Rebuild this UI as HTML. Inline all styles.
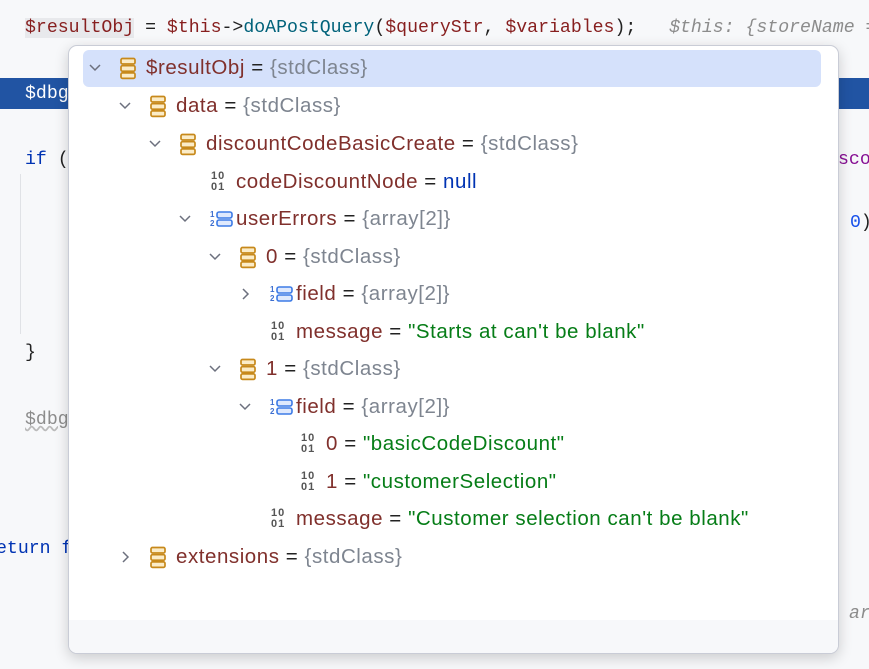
<!DOCTYPE html>
<html><head><meta charset="utf-8">
<style>
html,body{margin:0;padding:0}
body{width:869px;height:669px;position:relative;overflow:hidden;background:#f7f8fa;font-family:"Liberation Sans",sans-serif}
.code{position:absolute;font-family:"Liberation Mono",monospace;font-size:18.2px;white-space:pre;line-height:20px}
.pop{position:absolute;left:68px;top:45px;width:769px;height:607px;background:#fff;border:1px solid #c9ccd6;border-radius:9px;box-shadow:0 4px 14px rgba(0,0,0,0.18);overflow:hidden}
.foot{position:absolute;left:0;right:0;bottom:0;height:33px;background:#f7f8fa}
.sel{position:absolute;left:14px;top:4px;width:738px;height:37px;background:#d5e1fb;border-radius:6px}
.row{position:absolute;height:24px;font-size:20.5px;letter-spacing:0.55px;line-height:24px;white-space:nowrap;color:#80302c}
.eq{color:#222}
.obj{color:#7e8590}
.str{color:#067d17}
.nul{color:#0033b3}
.ic{position:absolute}
</style></head><body>
<div class="code" style="left:25px;top:18px;"><span style="background:#e8e9ec;color:#871f1f">$resultObj</span> <span style="color:#222">=</span> <span style="color:#871f1f">$this</span><span style="color:#222">-&gt;</span><span style="color:#00627a">doAPostQuery</span><span style="color:#222">(</span><span style="color:#871f1f">$queryStr</span><span style="color:#222">, </span><span style="color:#871f1f">$variables</span><span style="color:#222">);</span>   <span style="color:#8c8c8c;font-style:italic">$this: {storeName =</span></div>
<div style="position:absolute;left:0;top:78px;width:869px;height:31px;background:#2154a3"></div>
<div class="code" style="left:25px;top:84px;color:#fff">$dbg</div>
<div class="code" style="left:25px;top:150px;color:#0033b3">if <span style="color:#222">(</span></div>
<div class="code" style="left:838px;top:150px;color:#871094">sco</div>
<div class="code" style="left:850px;top:213px;color:#1750eb">0<span style="color:#222">)</span></div>
<div style="position:absolute;left:20px;top:174px;width:1px;height:160px;background:#e0e2e6"></div>
<div class="code" style="left:25px;top:343px;color:#222">}</div>
<div class="code" style="left:25px;top:410px;color:#8c8c8c;text-decoration:underline wavy #bbb">$dbg</div>
<div class="code" style="left:-4px;top:539px;color:#0033b3">eturn f</div>
<div class="code" style="left:849px;top:604px;color:#8c8c8c;font-style:italic">ar</div>

<div class="pop">
<div class="sel"></div>
<div class="foot"></div>
<div id="t"></div>
</div>
<script>
var rows=[
[0,22,'v','o','$resultObj','{stdClass}','obj'],
[1,60,'v','o','data','{stdClass}','obj'],
[2,98,'v','o','discountCodeBasicCreate','{stdClass}','obj'],
[3,136,'','p','codeDiscountNode','null','nul'],
[3,173,'v','a','userErrors','{array[2]}','obj'],
[4,211,'v','o','0','{stdClass}','obj'],
[5,248,'>','a','field','{array[2]}','obj'],
[5,286,'','p','message','"Starts at can\'t be blank"','str'],
[4,323,'v','o','1','{stdClass}','obj'],
[5,361,'v','a','field','{array[2]}','obj'],
[6,398,'','p','0','"basicCodeDiscount"','str'],
[6,436,'','p','1','"customerSelection"','str'],
[5,473,'','p','message','"Customer selection can\'t be blank"','str'],
[1,511,'>','o','extensions','{stdClass}','obj']];
var h='';
rows.forEach(function(r){
 var L=r[0],cy=r[1],tx=79+30*L,lx=tx-2;
 if(r[2]=='v') h+='<svg class="ic" style="left:'+(tx-60)+'px;top:'+(cy-5)+'px" width="14" height="10"><path d="M2 2 L7 7 L12 2" fill="none" stroke="#6c707e" stroke-width="1.5"/></svg>';
 if(r[2]=='>') h+='<svg class="ic" style="left:'+(tx-57)+'px;top:'+(cy-7)+'px" width="10" height="14"><path d="M2 2 L7 7 L2 12" fill="none" stroke="#6c707e" stroke-width="1.5"/></svg>';
 if(r[3]=='o') h+='<svg class="ic" style="left:'+(tx-29)+'px;top:'+(cy-11)+'px" width="19" height="23"><g fill="#fbecc8" stroke="#c7891b" stroke-width="1.7"><rect x="2" y="1.5" width="14" height="5.5" rx="1.5"/><rect x="2" y="8.7" width="14" height="5.5" rx="1.5"/><rect x="2" y="15.9" width="14" height="5.5" rx="1.5"/></g></svg>';
 if(r[3]=='a') h+='<svg class="ic" style="left:'+(tx-29)+'px;top:'+(cy-10)+'px" width="26" height="20"><text x="1" y="8" font-size="8" font-weight="bold" fill="#3d6ecf" font-family="Liberation Sans">1</text><text x="1" y="17" font-size="8" font-weight="bold" fill="#3d6ecf" font-family="Liberation Sans">2</text><g fill="#dfe9fd" stroke="#3d7be6" stroke-width="1.6"><rect x="8" y="3" width="15" height="6" rx="2"/><rect x="8" y="11" width="15" height="6" rx="2"/></g></svg>';
 if(r[3]=='p') h+='<div class="ic" style="left:'+(tx-27)+'px;top:'+(cy-11)+'px;font-size:11px;line-height:11px;font-weight:bold;color:#555;font-family:\'Liberation Sans\',sans-serif;letter-spacing:1px">10<br>01</div>';
 h+='<div class="row" style="left:'+lx+'px;top:'+(cy-12)+'px">'+r[4]+' <span class="eq">=</span> <span class="'+r[6]+'">'+r[5]+'</span></div>';
});
document.getElementById('t').innerHTML=h;
</script>
</body></html>
